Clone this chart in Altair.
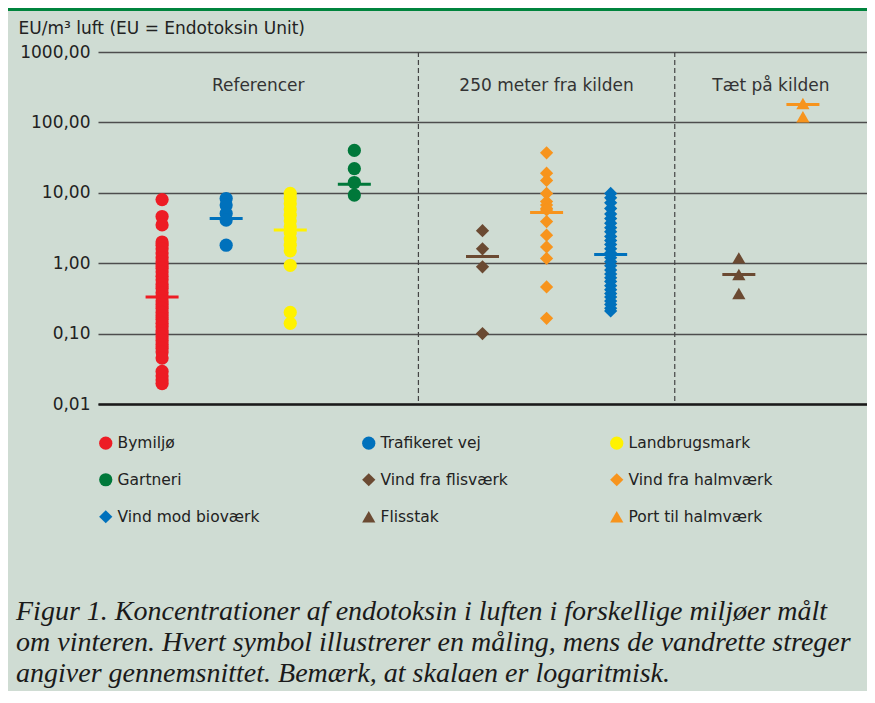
import altair as alt
import pandas as pd

groups = ["Bymiljø", "Trafikeret vej", "Landbrugsmark", "Gartneri",
          "Vind fra flisværk", "Vind fra halmværk", "Vind mod bioværk",
          "Flisstak", "Port til halmværk"]
positions = [0, 1, 2, 3, 5, 6, 7, 9, 10]
colors = ["#ed1c24", "#0071bc", "#fff200", "#00783a",
          "#6b4a32", "#f7941d", "#0071bc", "#6b4a32", "#f7941d"]
shapes = ["circle", "circle", "circle", "circle",
          "diamond", "diamond", "diamond", "triangle-up", "triangle-up"]
sizes = [175, 175, 175, 175, 196, 196, 196, 216, 216]

bymiljo = [8.0, 4.6, 3.5, 2.0, 1.8, 1.6, 1.4, 1.2, 1.05, 0.95, 0.85, 0.75, 0.65,
           0.58, 0.5, 0.44, 0.38, 0.33, 0.29, 0.26, 0.23, 0.2, 0.18, 0.16, 0.14,
           0.125, 0.11, 0.1, 0.09, 0.08, 0.07, 0.062, 0.055, 0.045, 0.029, 0.025,
           0.022, 0.0195]
trafikeret = [8.3, 6.7, 5.1, 4.1, 1.8]
landbrug = [9.8, 8.3, 7.0, 5.8, 4.8, 4.0, 3.3, 2.7, 2.2, 1.8, 1.5, 0.93, 0.2, 0.14]
gartneri = [40, 22, 14, 9.3]
flisvaerk = [2.9, 1.6, 0.89, 0.1]
halmvaerk = [37, 19, 15, 9.8, 7.5, 6.7, 6.0, 5.7, 3.9, 2.5, 1.7, 1.17, 0.46, 0.165]
biovaerk = [9.8, 8.5, 7.2, 6.0, 5.0, 4.3, 3.7, 3.2, 2.8, 2.4, 2.1, 1.85, 1.6, 1.4,
            1.2, 1.05, 0.92, 0.8, 0.7, 0.62, 0.55, 0.48, 0.42, 0.37, 0.33, 0.29,
            0.26, 0.23, 0.21]
flisstak = [1.19, 0.69, 0.37]
port = [186, 120]
values = [bymiljo, trafikeret, landbrug, gartneri, flisvaerk, halmvaerk,
          biovaerk, flisstak, port]
means = [0.33, 4.3, 2.95, 13.2, 1.25, 5.26, 1.33, 0.69, 180]

section_labels = ["Referencer", "250 meter fra kilden", "Tæt på kilden"]
section_pos = [1.5, 6, 9.5]
section_y = [330, 330, 330]
dividers = [4, 8]
y_ticks = [0.01, 0.1, 1, 10, 100, 1000]

caption = [
    "Figur 1. Koncentrationer af endotoksin i luften i forskellige miljøer målt",
    "om vinteren. Hvert symbol illustrerer en måling, mens de vandrette streger",
    "angiver gennemsnittet. Bemærk, at skalaen er logaritmisk.",
]

rows = []
for g, p, vals in zip(groups, positions, values):
    for v in vals:
        rows.append({"group": g, "pos": p, "value": v})
points_df = pd.DataFrame(rows)
means_df = pd.DataFrame({"group": groups, "pos": positions, "value": means, "col": colors})
labels_df = pd.DataFrame({"label": section_labels, "pos": section_pos, "value": section_y})
div_df = pd.DataFrame({"pos": dividers})

FONT = "DejaVu Sans"
x_enc = alt.X("pos:Q", scale=alt.Scale(domain=[-1, 11], nice=False, zero=False),
              axis=alt.Axis(labels=False, ticks=False, grid=False, domain=True,
                            domainColor="#1a1a1a", domainWidth=2.5, title=None))
y_axis = alt.Axis(values=y_ticks,
                  labelExpr="replace(format(datum.value, '.2f'), '.', ',')",
                  grid=True, gridColor="#4d4d4d", gridWidth=1.4, ticks=False,
                  domain=False, labelPadding=8, labelFont=FONT, labelFontSize=17,
                  labelColor="#222222",
                  title="EU/m³ luft (EU = Endotoksin Unit)", titleAngle=0,
                  titleAlign="left", titleX=-80, titleY=-19,
                  titleBaseline="alphabetic", titleFont=FONT, titleFontSize=17,
                  titleFontWeight="normal", titleColor="#222222")
y_enc = alt.Y("value:Q", scale=alt.Scale(type="log", domain=[0.01, 1000], nice=False),
              axis=y_axis)

legend = alt.Legend(title=None, orient="none", legendX=0, legendY=383,
                    direction="horizontal",
                    columns=3, gridAlign="each", columnPadding=101, rowPadding=20,
                    symbolSize=120, labelFont=FONT, labelFontSize=15.5,
                    labelColor="#222222", labelOffset=4, symbolStrokeWidth=0)

top_bar = alt.Chart(div_df).mark_rule(color="#00843d", strokeWidth=4).encode(
    x=alt.value(-90), x2=alt.value(769), y=alt.value(-43))

divider_layer = alt.Chart(div_df).mark_rule(
    color="#444444", strokeWidth=1.2, strokeDash=[5, 3]).encode(x=x_enc)

points = alt.Chart(points_df).mark_point(filled=True, opacity=1, strokeWidth=0).encode(
    x=x_enc, y=y_enc,
    color=alt.Color("group:N", scale=alt.Scale(domain=groups, range=colors), legend=legend),
    shape=alt.Shape("group:N", scale=alt.Scale(domain=groups, range=shapes), legend=legend),
    size=alt.Size("group:N", scale=alt.Scale(domain=groups, range=sizes), legend=None),
)

mean_ticks = alt.Chart(means_df).mark_tick(orient="horizontal", thickness=3, size=33,
                                           opacity=1).encode(
    x=x_enc, y=y_enc, color=alt.Color("col:N", scale=None))

section_text = alt.Chart(labels_df).mark_text(font=FONT, fontSize=17, color="#333333").encode(
    x=x_enc, y=y_enc, text="label:N")

chart = alt.layer(top_bar, divider_layer, points, mean_ticks, section_text).properties(
    width=769, height=352,
    autosize=alt.AutoSizeParams(type="none"),
    padding={"left": 90, "top": 44, "right": 0, "bottom": 287},
    background="#cfdcd3",
    title=alt.Title(text=caption, orient="bottom", anchor="start", font="Liberation Serif",
                    fontSize=28, fontStyle="italic", fontWeight="normal", color="#1a1a1a",
                    lineHeight=31, offset=72, dx=10),
).configure_view(stroke=None)

chart.save("out.html", embed_options={"renderer": "svg", "actions": False})
